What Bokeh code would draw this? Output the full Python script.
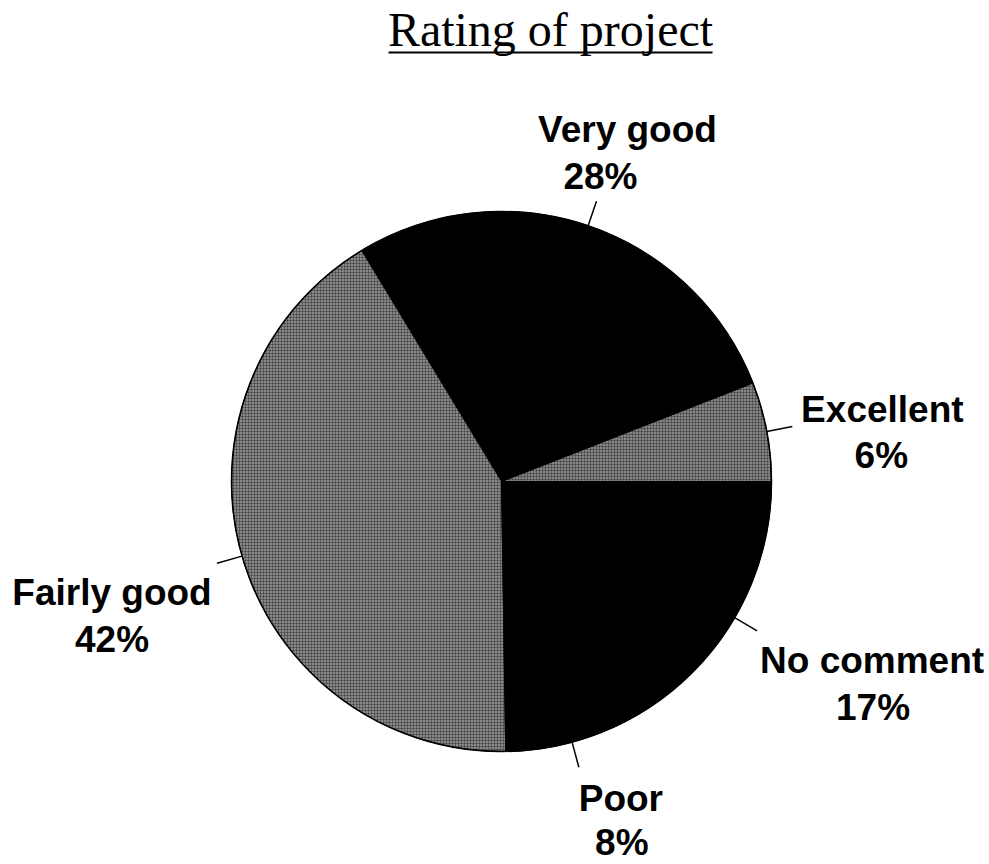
import math
from bokeh.plotting import figure
from bokeh.models import Range1d
from bokeh.core.properties import value
from bokeh.embed import file_html
from bokeh.resources import INLINE

# ---- data ----
categories = ["Excellent", "Very good", "Fairly good", "Poor", "No comment"]
percents = [6, 28, 42, 8, 17]
slice_colors = ["#858585", "#000000", "#888888", "#000000", "#000000"]
title_text = "Rating of project"

# ---- layout (screen-pixel based; data y = H - screen y) ----
W, H = 989, 864
def sy(y):
    return H - y

cx, cy, R = 501, sy(481), 270
lead_in, lead_out = 270, 296
# per-label offsets (line1 dx, line1 dy, line2 dx, line2 dy) relative to leader end, screen px
label_offsets = {
    "Very good": (31, -72, 4, -25),
    "Excellent": (90, -17, 89, 29),
    "Fairly good": (-105, 29, -105, 76),
    "No comment": (115, 30, 116, 77),
    "Poor": (42, 31, 43, 75),
}

p = figure(width=W, height=H, output_backend="svg", toolbar_location=None,
           x_range=Range1d(0, W), y_range=Range1d(0, H),
           min_border=0, outline_line_color=None)
p.axis.visible = False
p.grid.visible = False
p.background_fill_color = "white"
p.border_fill_color = "white"

total = sum(percents)
starts, ends, mids = [], [], []
acc = 0.0
for v in percents:
    a0 = acc / total * 2 * math.pi
    acc += v
    a1 = acc / total * 2 * math.pi
    starts.append(a0)
    ends.append(a1)
    mids.append((a0 + a1) / 2)

for c, a0, a1, col in zip(categories, starts, ends, slice_colors):
    if col != "#000000":
        p.wedge(x=cx, y=cy, radius=R, start_angle=a0, end_angle=a1,
                fill_color=col, line_color="black", line_width=1,
                hatch_pattern="cross", hatch_scale=3, hatch_color="#2a2a2a",
                hatch_alpha=0.45, hatch_weight=1)
    else:
        p.wedge(x=cx, y=cy, radius=R, start_angle=a0, end_angle=a1,
                fill_color=col, line_color="black", line_width=1)

# outline of pie
p.circle(x=cx, y=cy, radius=R, fill_color=None, line_color="black", line_width=1.5)

# leaders and labels
x0s, y0s, x1s, y1s = [], [], [], []
tx, ty, tt = [], [], []
for c, v, m in zip(categories, percents, mids):
    ex = cx + lead_out * math.cos(m)
    ey = cy + lead_out * math.sin(m)
    x0s.append(cx + lead_in * math.cos(m))
    y0s.append(cy + lead_in * math.sin(m))
    x1s.append(ex)
    y1s.append(ey)
    d1x, d1y, d2x, d2y = label_offsets[c]
    tx += [ex + d1x, ex + d2x]
    ty += [ey - d1y, ey - d2y]
    tt += [c, f"{v}%"]

p.segment(x0=x0s, y0=y0s, x1=x1s, y1=y1s, line_color="black", line_width=1.5)
p.text(x=tx, y=ty, text=tt, text_align="center", text_baseline="middle",
       text_font=value("Liberation Sans"), text_font_size=value("37px"),
       text_font_style="bold", text_color="black")

# title with underline
p.text(x=[550], y=[sy(29)], text=[title_text], text_align="center",
       text_baseline="middle", text_font=value("Liberation Serif"),
       text_font_size=value("48px"), text_color="black")
p.segment(x0=[388], y0=[sy(52)], x1=[712], y1=[sy(52)], line_color="black", line_width=2)

open("out.html", "w").write(file_html(p, INLINE))
